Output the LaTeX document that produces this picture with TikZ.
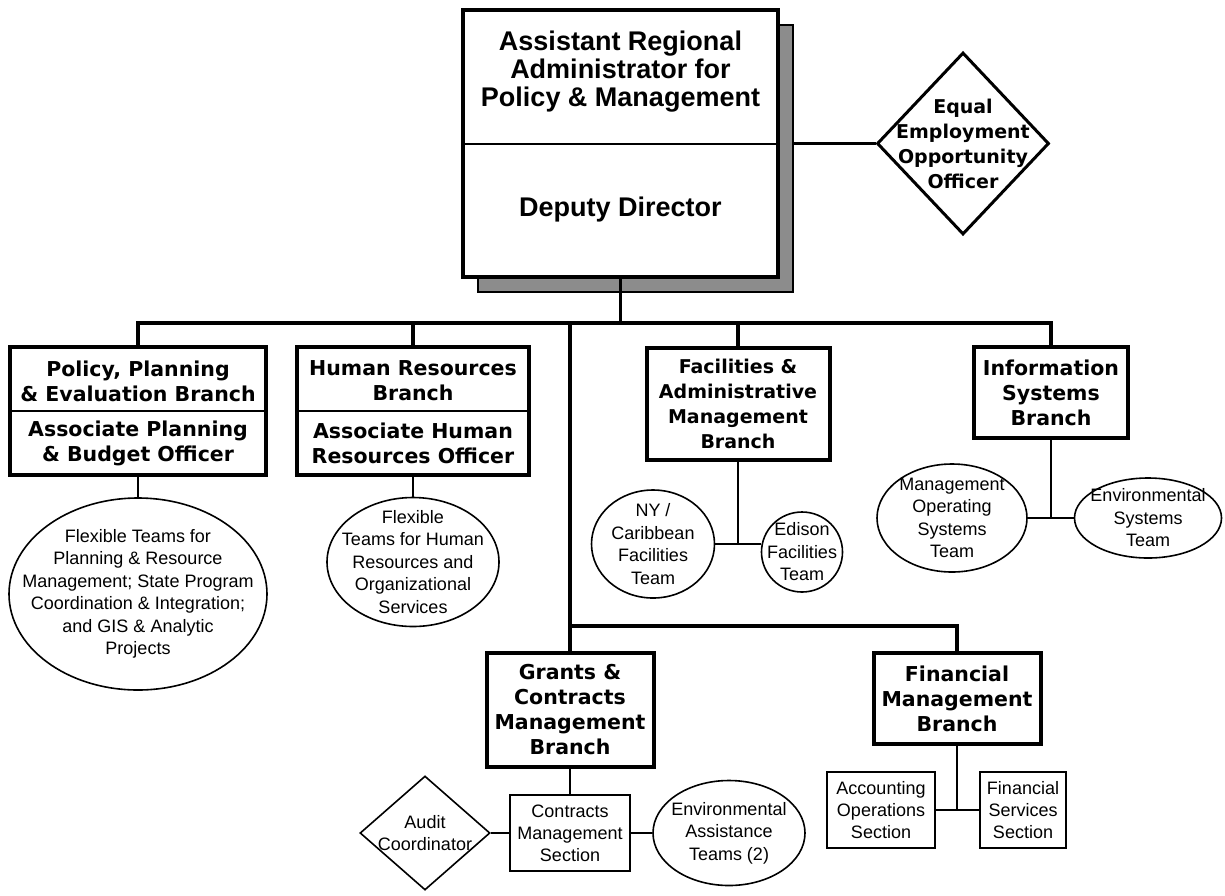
\documentclass[tikz,border=0pt]{standalone}
\usepackage{fontspec}
\setmainfont{Liberation Sans}
\newfontfamily\branchfont{DejaVu Sans}
\usepackage{tikz}
\usetikzlibrary{shapes.geometric}

\begin{document}
\begin{tikzpicture}[x=1pt,y=1pt,
            topbox/.style={draw, line width=4pt, fill=white, minimum width=315pt, minimum height=267pt},
            shadowbox/.style={draw, line width=1.2pt, fill=black!45, minimum width=315pt, minimum height=267pt},
            toptext/.style={align=center, font=\fontsize{27}{28}\selectfont\bfseries},
            branchbox/.style={draw, line width=4pt, align=center, inner sep=0pt, font=\branchfont\fontsize{20.5}{25}\selectfont\bfseries},
            branchtext/.style={align=center, inner sep=0pt, font=\branchfont\fontsize{20.5}{25}\selectfont\bfseries},
            eeobox/.style={draw, diamond, line width=3pt, inner sep=-60pt, align=center, font=\branchfont\fontsize{19}{25}\selectfont\bfseries},
            team/.style={draw, ellipse, line width=1.6pt, inner xsep=-60pt, inner ysep=-30pt, align=center, font=\fontsize{18}{22.5}\selectfont},
            section/.style={draw, rectangle, line width=2pt, inner sep=0pt, align=center, font=\fontsize{18}{22}\selectfont},
            auditbox/.style={draw, diamond, line width=1.6pt, inner sep=-60pt, align=center, font=\fontsize{18}{22}\selectfont},
            divider/.style={line width=2pt},
            bus/.style={line width=3.5pt},
            link/.style={line width=3pt},
            sub/.style={line width=2pt}]
            \useasboundingbox (0,0) rectangle (1225,-895);
            \fill[white] (0,0) rectangle (1225,-895);

            \node[shadowbox] (topshadow) at (635.5,-158.5) {};
            \node[topbox] (top) at (620.5,-143.5) {};
            \node[toptext] (ara) at (620.5,-72) {Assistant Regional\\Administrator for\\Policy \& Management};
            \node[toptext] (dd) at (620.5,-210) {Deputy Director};
            \draw[divider] (top.west) -- (top.east);

            \node[eeobox, minimum width=172pt, minimum height=182pt] (eeo) at (963,-143.5) {Equal\\Employment\\Opportunity\\Officer};
            \draw[link] (topshadow.east |- top.east) -- (eeo.west);

            \node[branchbox, minimum width=256pt, minimum height=128pt] (ppe) at (138,-411) {};
            \node[branchtext] (ppetitle) at (138,-381) {Policy, Planning\\\& Evaluation Branch};
            \node[branchtext] (apbo) at (138,-443) {Associate Planning\\\& Budget Officer};
            \draw[divider] (ppe.west) -- (ppe.east);

            \node[branchbox, minimum width=232pt, minimum height=128pt] (hrb) at (413,-411) {};
            \node[branchtext] (hrbtitle) at (413,-381) {Human Resources\\Branch};
            \node[branchtext] (ahro) at (413,-443) {Associate Human\\Resources Officer};
            \draw[divider] (hrb.west) -- (hrb.east);

            \node[branchbox, minimum width=183pt, minimum height=112pt, font=\branchfont\fontsize{19}{25}\selectfont\bfseries] (fam) at (738,-404) {Facilities \&\\Administrative\\Management\\Branch};
            \node[branchbox, minimum width=154pt, minimum height=91pt] (isb) at (1051,-392.5) {Information\\Systems\\Branch};
            \node[branchbox, minimum width=167pt, minimum height=114pt] (gcm) at (570,-710) {Grants \&\\Contracts\\Management\\Branch};
            \node[branchbox, minimum width=167pt, minimum height=91pt] (fmb) at (957,-698.5) {Financial\\Management\\Branch};

            \node[team, minimum width=258pt, minimum height=192pt] (pteam) at (138,-594) {Flexible Teams for\\Planning \& Resource\\Management; State Program\\Coordination \& Integration;\\and GIS \& Analytic\\Projects};
            \node[team, minimum width=172pt, minimum height=129pt] (hteam) at (413,-562) {Flexible\\Teams for Human\\Resources and\\Organizational\\Services};
            \node[team, minimum width=123pt, minimum height=108pt] (nyc) at (653,-544) {NY /\\Caribbean\\Facilities\\Team};
            \node[team, minimum width=81pt, minimum height=80pt] (edt) at (802,-552) {Edison\\Facilities\\Team};
            \node[team, minimum width=150pt, minimum height=108pt] (most) at (952,-518) {Management\\Operating\\Systems\\Team};
            \node[team, minimum width=147pt, minimum height=80pt] (est) at (1148,-518) {Environmental\\Systems\\Team};

            \node[section, minimum width=120pt, minimum height=76pt] (cms) at (570,-833) {Contracts\\Management\\Section};
            \node[auditbox, minimum width=130pt, minimum height=114pt] (audit) at (425,-833) {Audit\\Coordinator};
            \node[team, minimum width=152pt, minimum height=105pt] (env) at (729,-833) {Environmental\\Assistance\\Teams (2)};
            \node[section, minimum width=108pt, minimum height=76pt] (aos) at (881,-810) {Accounting\\Operations\\Section};
            \node[section, minimum width=86pt, minimum height=76pt] (fss) at (1023,-810) {Financial\\Services\\Section};

            \coordinate (bus) at (620.5,-323);
            \coordinate (bus2) at (570,-626);
            \draw[bus] (top.south) -- (bus);
            \foreach \n in {ppe,hrb,fam,isb}
                \draw[bus] (\n.north) |- (bus);
            \draw[bus] (gcm.north) -- (gcm.north |- bus);
            \draw[bus] (fmb.north) |- (bus2);

            \draw[sub] (ppe.south) -- (pteam.north);
            \draw[sub] (hrb.south) -- (hteam.north);
            \draw[sub] (fam.south) -- (fam.south |- nyc.east);
            \draw[sub] (nyc.east) -- (nyc.east -| edt.west);
            \draw[sub] (isb.south) -- (isb.south |- most.east);
            \draw[sub] (most.east) -- (est.west);
            \draw[sub] (gcm.south) -- (cms.north);
            \draw[sub] (audit.east) -- (cms.west);
            \draw[sub] (cms.east) -- (env.west);
            \draw[sub] (fmb.south) -- (fmb.south |- aos.east);
            \draw[sub] (aos.east) -- (fss.west);
        \end{tikzpicture}
\end{document}
